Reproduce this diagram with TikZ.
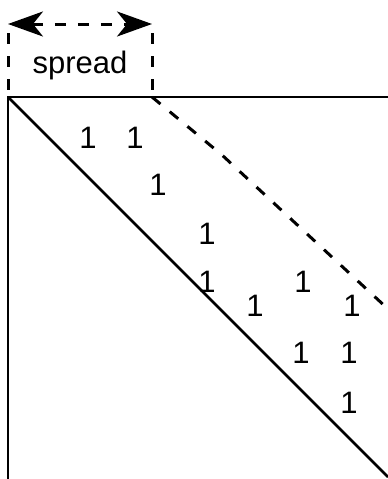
\documentclass[tikz,border=0pt]{standalone}
\usepackage{fontspec}
\setmainfont{Liberation Sans}
\usetikzlibrary{arrows.meta}

\begin{document}
\begin{tikzpicture}[x=1pt, y=-1pt, font=\fontsize{31}{34}\selectfont,
  one/.style={inner sep=0pt},
  edge/.style={line width=2.6pt},
  guide/.style={line width=3pt, dash pattern=on 11pt off 12pt},
  ar/.style={{Stealth[length=35pt,width=25pt,inset=10pt]}-{Stealth[length=35pt,width=25pt,inset=10pt]},
             guide}]
\useasboundingbox (0,0) rectangle (388,479);
% matrix frame
\coordinate (corner) at (8,97);
\coordinate (topend) at (388,97);
\coordinate (leftend) at (8,479);
\coordinate (diagend) at (388,477);
\draw[edge] (leftend) -- (corner) -- (topend);
\draw[edge] (corner) -- (diagend);
% band edge
\coordinate (b0) at (152,97);
\coordinate (b1) at (222,155);
\coordinate (b2) at (292,220);
\coordinate (b3) at (388,309);
\draw[guide] (b0) -- (b1) -- (b2) -- (b3);
% spread marker
\coordinate (sl) at (8,33);
\coordinate (sr) at (152,33);
\coordinate (al) at (8,24);
\coordinate (arr) at (152,24);
\draw[guide] (sl) -- (corner);
\draw[guide] (sr) -- (b0);
\draw[ar] (al) -- (arr);
\node[one, anchor=base] (spread) at (80,73) {spread};
% nonzero entries
\node[one] (e1) at (88,138) {1};
\node[one] (e2) at (135,138) {1};
\node[one] (e3) at (158,185) {1};
\node[one] (e4) at (207,234) {1};
\node[one] (e5) at (207,282) {1};
\node[one] (e6) at (255,306) {1};
\node[one] (e7) at (303,282) {1};
\node[one] (e8) at (352,306) {1};
\node[one] (e9) at (301,353) {1};
\node[one] (e10) at (349,353) {1};
\node[one] (e11) at (349,403) {1};
\end{tikzpicture}
\end{document}
